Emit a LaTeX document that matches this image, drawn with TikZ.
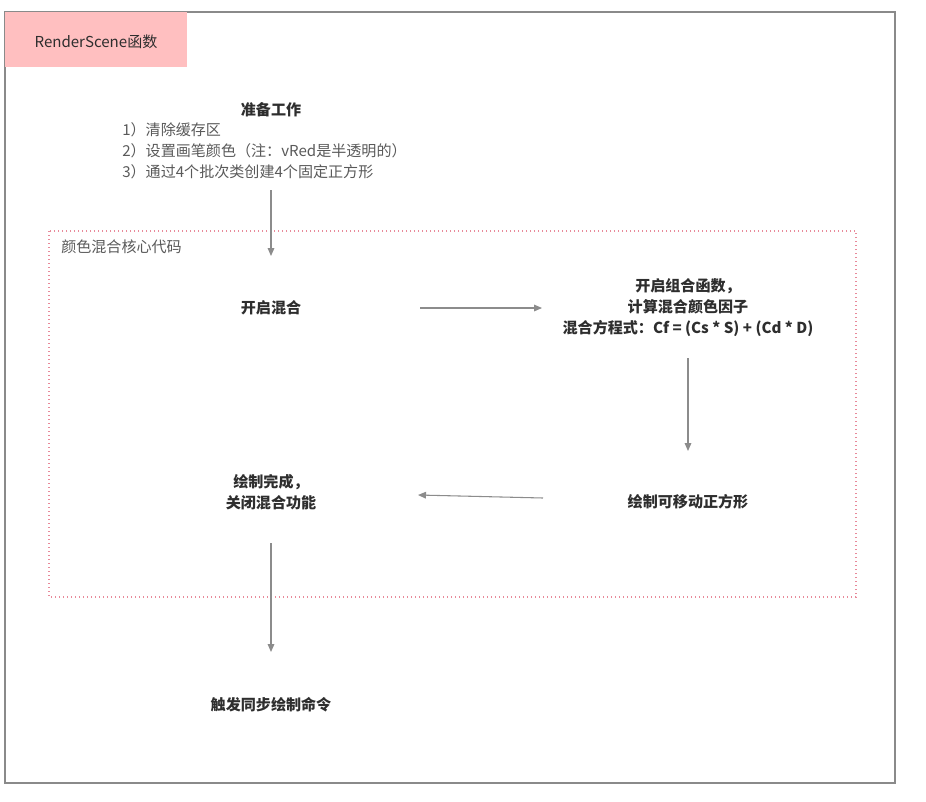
\documentclass[tikz,border=0pt]{standalone}
\usepackage{fontspec}
\setmainfont{Noto Sans CJK SC}
\usetikzlibrary{arrows.meta}
\definecolor{frame}{HTML}{8A8A8A}
\definecolor{pinkfill}{HTML}{FFBFC0}
\definecolor{dotpink}{HTML}{E88A9A}
\definecolor{txt}{HTML}{2E2E2E}
\definecolor{graytxt}{HTML}{5A5A5A}
\definecolor{arr}{HTML}{8C8C8C}
\tikzset{
  mainlbl/.style={font=\fontsize{11.3pt}{15.75pt}\selectfont\bfseries, text=txt, align=center, inner sep=0pt},
  subline/.style={font=\fontsize{11.3pt}{12pt}\selectfont, text=graytxt, anchor=west, inner sep=0pt},
  flow/.style={draw=arr, line width=0.8pt, -{Triangle[length=6pt,width=5pt]}},
}
\begin{document}
\begin{tikzpicture}[x=0.75pt,y=-0.75pt]
\useasboundingbox (0,0) rectangle (926,801);
\fill[white] (0,0) rectangle (926,801);
% outer frame
\draw[frame, line width=1.5pt] (5,12) rectangle (895,783);
% title box
\fill[pinkfill] (5,12) rectangle (187,67);
\node[font=\fontsize{11.3pt}{12pt}\selectfont, text=txt, inner sep=0pt] (title) at (96,42) {RenderScene函数};
% dotted region
\draw[dotpink, line width=0.8pt, dash pattern=on 1pt off 2pt] (49,231) rectangle (856,597);
\node[subline, text=graytxt] (region) at (61,247) {颜色混合核心代码};
% preparation
\node[mainlbl] (prep) at (271,110) {准备工作};
\node[subline] (p1) at (122,130) {1）清除缓存区};
\node[subline] (p2) at (122,151) {2）设置画笔颜色（注：vRed是半透明的）};
\node[subline] (p3) at (122,172) {3）通过4个批次类创建4个固定正方形};
% nodes
\node[mainlbl] (enable) at (271,308) {开启混合};
\node[mainlbl] (func) at (688,308) {开启组合函数，\\计算混合颜色因子\\混合方程式：Cf = (Cs * S) + (Cd * D)};
\node[mainlbl] (drawmove) at (688,502) {绘制可移动正方形};
\node[mainlbl] (done) at (271,492) {绘制完成，\\关闭混合功能};
\node[mainlbl] (trigger) at (271,705) {触发同步绘制命令};
% connector end points
\coordinate (a1s) at (271,190);
\coordinate (a1e) at (271,256);
\coordinate (a2s) at (420,308);
\coordinate (a2e) at (542,308);
\coordinate (a3s) at (688,358);
\coordinate (a3e) at (688,451);
\coordinate (a4s) at (543,498);
\coordinate (a4e) at (418,495);
\coordinate (a5s) at (271,543);
\coordinate (a5e) at (271,652);
% connectors
\draw[flow] (a1s) -- (a1e);
\draw[flow] (a2s) -- (a2e);
\draw[flow] (a3s) -- (a3e);
\draw[flow] (a4s) -- (a4e);
\draw[flow] (a5s) -- (a5e);
\end{tikzpicture}
\end{document}
